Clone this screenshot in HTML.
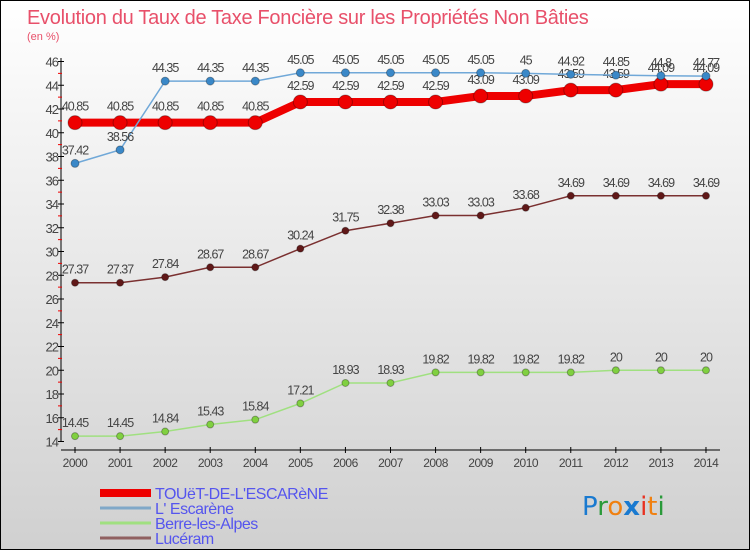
<!DOCTYPE html>
<html><head><meta charset="utf-8"><style>
body{margin:0;width:750px;height:550px;overflow:hidden;font-family:"Liberation Sans",sans-serif}
</style></head><body>
<svg id="c" width="750" height="550" xmlns="http://www.w3.org/2000/svg">
<defs><linearGradient id="bg" x1="0" y1="0" x2="0" y2="1"><stop offset="0" stop-color="#ffffff"/><stop offset="1" stop-color="#d0d0d0"/></linearGradient></defs>
<rect x="0.5" y="0.5" width="749" height="549" fill="url(#bg)" stroke="#000"/>
<text x="27" y="24" font-size="20" fill="#e8506a" letter-spacing="-0.3">Evolution du Taux de Taxe Foncière sur les Propriétés Non Bâties</text>
<text x="27" y="40" font-size="11" fill="#e8506a">(en %)</text>
<g id="axes"></g><g id="series"></g><g id="legend"></g>
<g font-size="26" font-family="'DejaVu Sans',sans-serif">
<text x="582" y="515"><tspan fill="#1a7ad0">P</tspan><tspan fill="#2a9a3a">r</tspan><tspan fill="#f08010">o</tspan><tspan fill="#1a7ad0" font-weight="bold">x</tspan><tspan fill="#e83020">i</tspan><tspan fill="#f08010">t</tspan><tspan fill="#2a9a3a">i</tspan></text>
</g>
</svg>
<script>
const years=[2000,2001,2002,2003,2004,2005,2006,2007,2008,2009,2010,2011,2012,2013,2014];
const touet=[40.85,40.85,40.85,40.85,40.85,42.59,42.59,42.59,42.59,43.09,43.09,43.59,43.59,44.09,44.09];
const escarene=[37.42,38.56,44.35,44.35,44.35,45.05,45.05,45.05,45.05,45.05,45,44.92,44.85,44.8,44.77];
const berre=[14.45,14.45,14.84,15.43,15.84,17.21,18.93,18.93,19.82,19.82,19.82,19.82,20,20,20];
const luceram=[27.37,27.37,27.84,28.67,28.67,30.24,31.75,32.38,33.03,33.03,33.68,34.69,34.69,34.69,34.69];
const yTicks=[14,16,18,20,22,24,26,28,30,32,34,36,38,40,42,44,46];
const NS="http://www.w3.org/2000/svg";
const X=i=>75+i*45.07, Y=v=>441.5-(v-14)*11.875;
function el(t,a,p){const e=document.createElementNS(NS,t);for(const k in a)e.setAttribute(k,a[k]);p.appendChild(e);return e;}
const ax=document.getElementById('axes');
let l=el('line',{x1:61,y1:58,x2:61,y2:442,stroke:'#000'},ax);

l=el('line',{x1:61,y1:450,x2:720,y2:450,stroke:'#000'},ax);

yTicks.forEach(v=>{el('line',{x1:58,y1:Y(v),x2:64,y2:Y(v),stroke:'#000'},ax);
 if(v<46)el('line',{x1:58,y1:Y(v+1),x2:62,y2:Y(v+1),stroke:'#e00'},ax);
 const t=el('text',{x:58,y:Y(v)+5,'text-anchor':'end','font-size':13,fill:'#444','letter-spacing':'-1'},ax);t.textContent=v;
 });
years.forEach((y,i)=>{el('line',{x1:X(i),y1:447,x2:X(i),y2:453,stroke:'#000'},ax);
 const t=el('text',{x:X(i),y:467,'text-anchor':'middle','font-size':12,fill:'#444','letter-spacing':'-0.5'},ax);t.textContent=y;
 });
const sg=document.getElementById('series');
function series(name,d,col,w,r,fill){
 const g=el('g',{},sg);
 el('polyline',{points:d.map((v,i)=>X(i)+','+Y(v)).join(' '),fill:'none',stroke:col,'stroke-width':w},g);
 d.forEach((v,i)=>{const c=el('circle',{cx:X(i),cy:Y(v),r:r,fill:fill,stroke:'rgba(0,0,0,0.3)'},g);
  
  const t=el('text',{x:X(i),y:Y(v)-9-(r>5?3:0),'text-anchor':'middle','font-size':12.5,fill:'#444','letter-spacing':'-1'},g);t.textContent=v;});
}
series('series-luceram',luceram,'#7a3030',1.5,3.5,'#601818');
series('series-berre',berre,'#a0e080',1.5,3.5,'#80d040');
series('series-touet',touet,'#ee0000',8,7,'#ee0000');
series('series-escarene',escarene,'#70a8d8',1.5,4,'#3a88c8');
const lg=document.getElementById('legend');
[['TOUëT-DE-L\'ESCARèNE','#ee0000',8],['L\' Escarène','#80a8c8',3],['Berre-les-Alpes','#a0e080',3],['Lucéram','#906060',3]].forEach((e,i)=>{
 const g=el('g',{},lg);
 el('line',{x1:100,y1:493+i*15,x2:151,y2:493+i*15,stroke:e[1],'stroke-width':e[2]},g);
 const t=el('text',{x:155,y:499+i*15,'font-size':16,fill:'#5555ee','letter-spacing':'-0.5'},g);t.textContent=e[0];});
</script>
</body></html>
